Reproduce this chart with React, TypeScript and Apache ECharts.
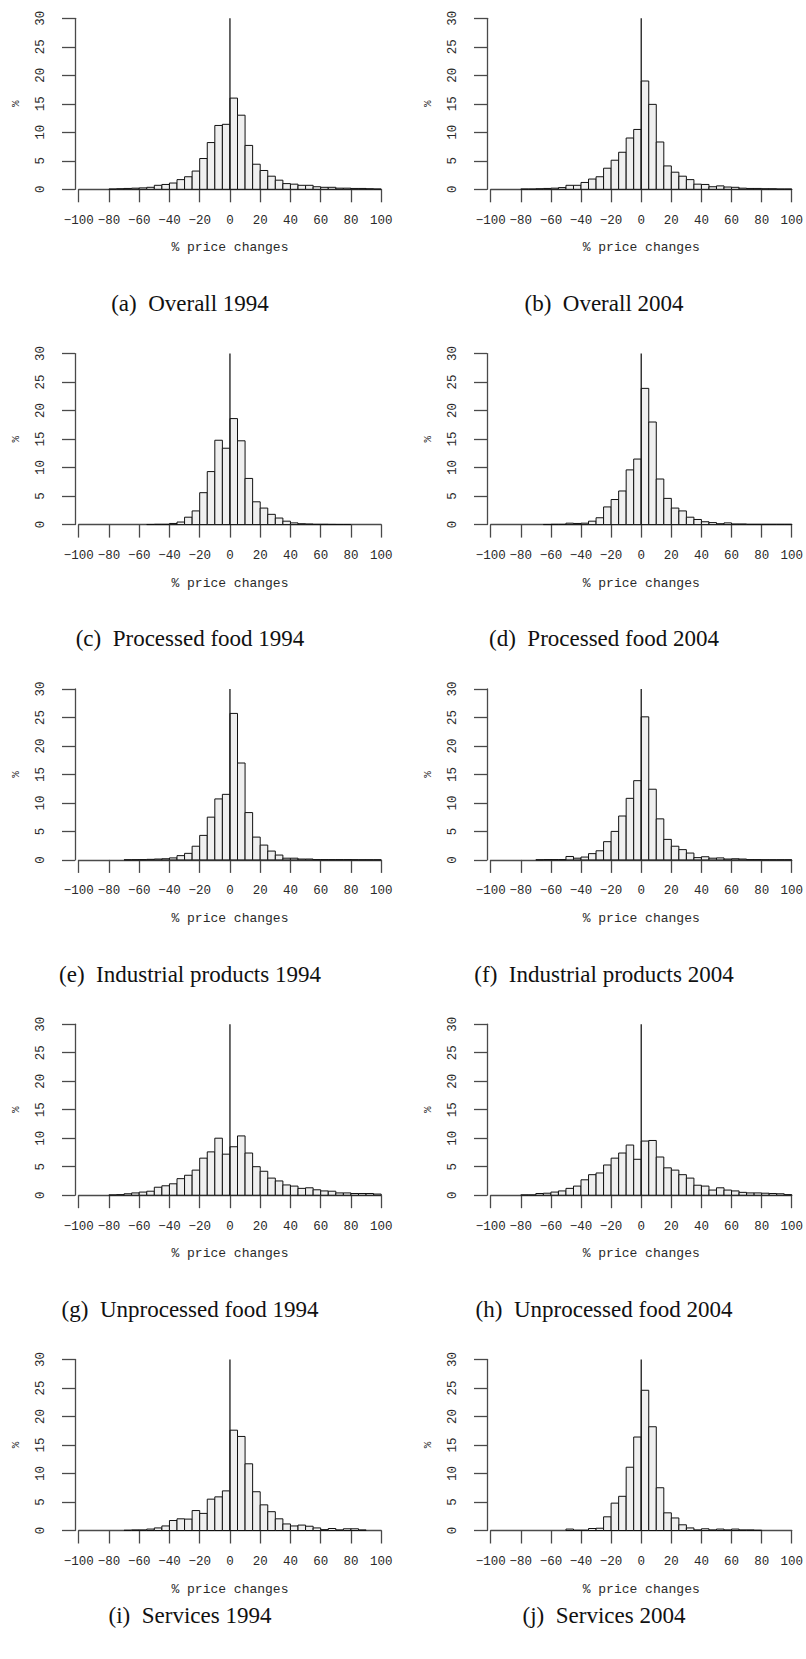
import React, { useEffect, useRef } from "react";
import * as echarts from "echarts";

// ---- data: histogram bin heights (% of price changes), bins of width 5 ----
const BIN_WIDTH = 5;

const overall1994Start = -80;
const overall1994 = [0.05, 0.1, 0.15, 0.2, 0.25, 0.35, 0.7, 0.85, 1.1, 1.7, 2.2, 3.2, 5.4, 8.2, 11.2, 11.4, 16.0, 13.0, 7.7, 4.4, 3.3, 2.3, 1.6, 1.0, 0.9, 0.7, 0.7, 0.45, 0.35, 0.35, 0.2, 0.2, 0.15, 0.15, 0.1, 0.05];

const overall2004Start = -80;
const overall2004 = [0.05, 0.05, 0.1, 0.15, 0.2, 0.3, 0.7, 0.7, 1.2, 1.8, 2.2, 3.7, 5.1, 6.5, 9.0, 10.5, 19.0, 14.9, 8.3, 4.1, 3.0, 2.3, 1.7, 0.9, 0.85, 0.45, 0.6, 0.4, 0.35, 0.2, 0.15, 0.15, 0.1, 0.1, 0.05, 0.05];

const processed1994Start = -55;
const processed1994 = [0.02, 0.05, 0.05, 0.2, 0.45, 1.3, 2.4, 5.6, 9.3, 14.8, 13.4, 18.6, 14.7, 8.1, 4.0, 2.9, 1.8, 1.15, 0.6, 0.3, 0.15, 0.1, 0.05, 0.05, 0.03, 0.02, 0.02];

const processed2004Start = -65;
const processed2004 = [0.02, 0.05, 0.05, 0.25, 0.2, 0.25, 0.6, 1.2, 3.1, 4.4, 5.9, 9.6, 11.5, 23.9, 18.0, 8.0, 4.6, 2.9, 2.4, 1.3, 0.9, 0.5, 0.35, 0.15, 0.3, 0.1, 0.1, 0.05, 0.05, 0.05, 0.05, 0.05, 0.05];

const industrial1994Start = -70;
const industrial1994 = [0.02, 0.03, 0.05, 0.1, 0.15, 0.2, 0.35, 0.75, 1.15, 2.4, 4.3, 7.5, 10.7, 11.5, 25.7, 17.0, 8.3, 4.0, 2.6, 1.55, 0.85, 0.3, 0.3, 0.15, 0.15, 0.05, 0.05, 0.05, 0.05, 0.05, 0.03, 0.02, 0.02, 0.02];

const industrial2004Start = -70;
const industrial2004 = [0.02, 0.05, 0.05, 0.05, 0.6, 0.3, 0.5, 1.1, 1.6, 3.2, 5.0, 7.7, 10.8, 13.9, 25.1, 12.4, 7.2, 3.6, 2.4, 1.8, 1.2, 0.4, 0.55, 0.3, 0.35, 0.15, 0.2, 0.15, 0.05, 0.05, 0.02, 0.02, 0.02, 0.02];

const unprocessed1994Start = -80;
const unprocessed1994 = [0.05, 0.1, 0.25, 0.4, 0.55, 0.7, 1.4, 1.65, 2.0, 2.9, 3.5, 4.4, 6.5, 7.6, 10.0, 7.2, 8.5, 10.4, 7.4, 5.0, 4.2, 3.0, 2.5, 1.8, 1.6, 1.2, 1.3, 0.95, 0.75, 0.7, 0.4, 0.4, 0.3, 0.3, 0.3, 0.2];

const unprocessed2004Start = -80;
const unprocessed2004 = [0.05, 0.05, 0.3, 0.35, 0.55, 0.75, 1.2, 1.6, 2.7, 3.6, 3.9, 5.3, 6.5, 7.4, 8.8, 6.3, 9.5, 9.6, 6.7, 4.8, 4.4, 3.6, 3.0, 1.75, 1.6, 0.9, 1.3, 0.9, 0.75, 0.5, 0.4, 0.4, 0.35, 0.3, 0.25, 0.1];

const services1994Start = -70;
const services1994 = [0.05, 0.1, 0.1, 0.25, 0.45, 0.8, 1.75, 2.05, 2.0, 3.5, 3.0, 5.5, 5.9, 6.95, 17.6, 16.5, 11.7, 6.8, 4.5, 3.3, 2.05, 1.15, 0.8, 0.95, 0.75, 0.45, 0.15, 0.35, 0.1, 0.3, 0.3, 0.1];

const services2004Start = -50;
const services2004 = [0.25, 0.05, 0.05, 0.35, 0.4, 2.4, 4.8, 6.0, 11.1, 16.4, 24.6, 18.2, 7.5, 3.1, 2.2, 1.0, 0.45, 0.1, 0.3, 0.1, 0.25, 0.1, 0.25, 0.1, 0.1, 0.05];

const captionLabels = ["(a)", "(b)", "(c)", "(d)", "(e)", "(f)", "(g)", "(h)", "(i)", "(j)"];
const captionTitles = [
  "Overall 1994",
  "Overall 2004",
  "Processed food 1994",
  "Processed food 2004",
  "Industrial products 1994",
  "Industrial products 2004",
  "Unprocessed food 1994",
  "Unprocessed food 2004",
  "Services 1994",
  "Services 2004",
];

const panelStarts = [
  overall1994Start, overall2004Start,
  processed1994Start, processed2004Start,
  industrial1994Start, industrial2004Start,
  unprocessed1994Start, unprocessed2004Start,
  services1994Start, services2004Start,
];
const panelValues = [
  overall1994, overall2004,
  processed1994, processed2004,
  industrial1994, industrial2004,
  unprocessed1994, unprocessed2004,
  services1994, services2004,
];

const X_MIN = -100;
const X_MAX = 100;
const X_INTERVAL = 20;
const Y_MIN = 0;
const Y_MAX = 30;
const Y_INTERVAL = 5;
const X_TITLE = "% price changes";
const Y_TITLE = "%";

// ---- layout ----
const W = 806;
const H = 1659;
const COL_LEFT = [78.7, 490.7];
const PLOT_W = 302.5;
const PLOT_H = 171;
const TOP0 = 18.3;
const ROW_STEP = 335.3;
const CAPTION_X = [190, 604];
const CAPTION_Y = [303.6, 638.9, 974.2, 1309.5, 1615];

const MONO = '"Liberation Mono", "DejaVu Sans Mono", monospace';
const SERIF = '"Liberation Serif", "DejaVu Serif", serif';
const AXIS_COLOR = "#4a4a4a";
const TEXT_COLOR = "#2a2a2a";

function renderBin(params: any, api: any) {
  const x0 = api.value(0);
  const h = api.value(1);
  const p0 = api.coord([x0, 0]);
  const p1 = api.coord([x0 + BIN_WIDTH, h]);
  return {
    type: "rect",
    shape: { x: p0[0], y: p1[1], width: p1[0] - p0[0], height: p0[1] - p1[1] },
    style: { fill: "#efefef", stroke: "#111", lineWidth: 1 },
  };
}

function buildOption() {
  const grid: any[] = [];
  const xAxis: any[] = [];
  const yAxis: any[] = [];
  const series: any[] = [];
  const graphic: any[] = [];

  panelValues.forEach((vals, i) => {
    const col = i % 2;
    const row = Math.floor(i / 2);
    const top = TOP0 + ROW_STEP * row;
    grid.push({ left: COL_LEFT[col], top, width: PLOT_W, height: PLOT_H, containLabel: false });
    xAxis.push({
      type: "value",
      gridIndex: i,
      min: X_MIN,
      max: X_MAX,
      interval: X_INTERVAL,
      splitLine: { show: false },
      axisLine: { show: true, onZero: false, lineStyle: { color: AXIS_COLOR, width: 1.3 } },
      axisTick: { show: true, length: 13, lineStyle: { color: AXIS_COLOR, width: 1.3 } },
      axisLabel: {
        margin: 25,
        fontFamily: MONO,
        fontSize: 12.5,
        color: TEXT_COLOR,
        formatter: (v: number) => String(v).replace("-", "\u2212"),
      },
      name: X_TITLE,
      nameLocation: "middle",
      nameGap: 52,
      nameTextStyle: { fontFamily: MONO, fontSize: 13, color: TEXT_COLOR },
    });
    yAxis.push({
      type: "value",
      gridIndex: i,
      min: Y_MIN,
      max: Y_MAX,
      interval: Y_INTERVAL,
      offset: 3.7,
      splitLine: { show: false },
      axisLine: { show: true, onZero: false, lineStyle: { color: AXIS_COLOR, width: 1.3 } },
      axisTick: { show: true, length: 13, lineStyle: { color: AXIS_COLOR, width: 1.3 } },
      axisLabel: {
        rotate: 90,
        margin: 28,
        fontFamily: MONO,
        fontSize: 12.5,
        color: TEXT_COLOR,
      },
      name: Y_TITLE,
      nameLocation: "middle",
      nameRotate: 90,
      nameGap: 54,
      nameTextStyle: { fontFamily: MONO, fontSize: 11, color: TEXT_COLOR },
    });
    series.push({
      type: "custom",
      xAxisIndex: i,
      yAxisIndex: i,
      silent: true,
      renderItem: renderBin,
      encode: { x: 0, y: 1 },
      data: vals.map((v, k) => [panelStarts[i] + k * BIN_WIDTH, v]),
      z: 2,
    });
    series.push({
      type: "line",
      xAxisIndex: i,
      yAxisIndex: i,
      silent: true,
      symbol: "none",
      lineStyle: { color: "#1a1a1a", width: 1.3 },
      data: [[0, Y_MIN], [0, Y_MAX]],
      z: 3,
    });
    graphic.push({
      type: "text",
      x: CAPTION_X[col],
      y: CAPTION_Y[row],
      silent: true,
      style: {
        text: captionLabels[i] + "\u2002" + captionTitles[i],
        fontFamily: SERIF,
        fontSize: 23,
        fill: "#111",
        align: "center",
        verticalAlign: "middle",
      },
    });
  });

  return {
    animation: false,
    backgroundColor: "#ffffff",
    grid,
    xAxis,
    yAxis,
    series,
    graphic,
  };
}

export default function App() {
  const ref = useRef<HTMLDivElement | null>(null);
  useEffect(() => {
    document.body.style.margin = "0";
    if (!ref.current) return;
    const chart = echarts.init(ref.current, undefined, { renderer: "svg" });
    chart.setOption(buildOption() as any);
    return () => {
      chart.dispose();
    };
  }, []);
  return (
    <div
      ref={ref}
      style={{ position: "absolute", left: 0, top: 0, width: W, height: H, background: "#fff" }}
    />
  );
}
